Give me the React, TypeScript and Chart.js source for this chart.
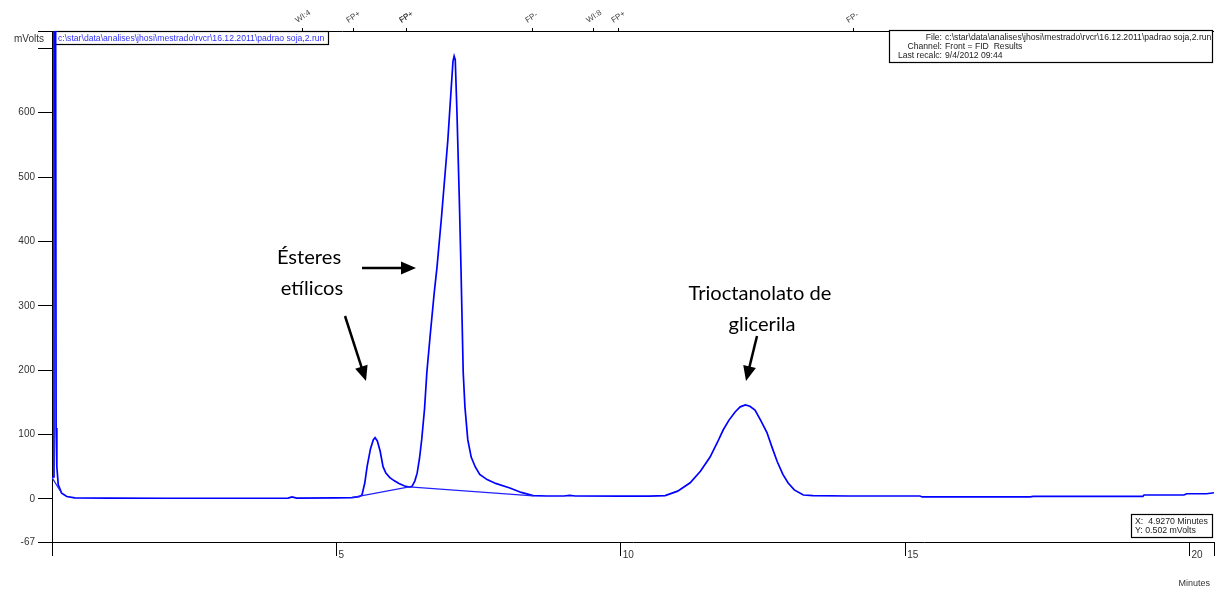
import React, { useEffect, useRef } from "react";
import { Chart, registerables } from "chart.js";
Chart.register(...registerables);

// ---- data (retention time in minutes, signal in mVolts) ----
const traceTime = [
  0, 0.02, 0.035, 0.06, 0.072, 0.085, 0.11, 0.17, 0.26, 0.4, 1.0, 2.0, 3.0, 4.0, 4.15, 4.22, 4.3, 5.0, 5.27,
  5.4, 5.45, 5.5, 5.54, 5.6, 5.65, 5.68, 5.72, 5.77, 5.82, 5.87, 5.94, 6.02, 6.1, 6.2, 6.28, 6.33, 6.38, 6.42,
  6.46, 6.5, 6.55, 6.59, 6.65, 6.72, 6.77, 6.85, 6.96, 7.02, 7.05, 7.07, 7.09, 7.12, 7.16, 7.19, 7.23, 7.26,
  7.31, 7.37, 7.44, 7.52, 7.65, 7.8, 8.05, 8.25, 8.46, 8.7, 9.0, 9.1, 9.2, 10.0, 10.5, 10.78, 11.0, 11.22,
  11.4, 11.57, 11.7, 11.8, 11.9, 12.01, 12.1, 12.19, 12.27, 12.36, 12.46, 12.57, 12.66, 12.75, 12.85, 12.94,
  13.05, 13.21, 13.38, 14.0, 15.26, 15.3, 17.2, 17.25, 19.18, 19.2, 19.9, 19.95, 20.3, 20.43,
];
const traceMv = [
  33, 34, 1000, 1000, 110, 50, 22, 9, 3.6, 1.5, 1.2, 1.0, 1.0, 1.0, 1.2, 3, 1.2, 1.5, 2,
  3.5, 6, 25, 50, 78, 92, 95, 90, 74, 50, 40, 33, 28, 24, 20, 18.5, 19.5, 28, 40,
  62, 92, 140, 196, 255, 320, 361, 440, 558, 640, 680, 688, 682, 600, 470, 361, 196, 143,
  92, 65, 50, 38, 30, 24, 17, 10, 5, 4.5, 4.5, 5.5, 4.5, 4.2, 4.3, 5, 12, 25,
  43, 65, 88, 107, 122, 135, 143, 146, 144, 138, 122, 103, 80, 58, 38, 25,
  14, 6, 5, 4.5, 4.5, 3, 3, 4, 4, 6, 6, 8, 8, 9.5,
];
// integration baselines
const baseATime = [0, 0.17];
const baseAMv = [33, 9];
const baseBTime = [5.27, 6.28, 8.46];
const baseBMv = [2, 18.5, 4.6];

// axes
const xTicks = [0, 5, 10, 15, 20, 20.43];
const yTicks = [-67, 0, 100, 200, 300, 400, 500, 600, 700, 727];

// event markers along the top
const markerTimes = [4.4, 5.29, 6.23, 6.23, 8.44, 9.51, 9.95, 14.08];
const markerLabels = ["WI:4", "FP+", "FP+", "FP-", "FP-", "WI:8", "FP+", "FP-"];

// info texts
const pathText = "c:\\star\\data\\analises\\jhosi\\mestrado\\rvcr\\16.12.2011\\padrao soja,2.run";
const infoLabels = ["File:", "Channel:", "Last recalc:"];
const infoValues = [pathText, "Front = FID  Results", "9/4/2012 09:44"];
const cursorLines = ["X:  4.9270 Minutes", "Y: 0.502 mVolts"];

const SANS = "'Liberation Sans', Arial, sans-serif";
const ANNOT = "Lato, 'Open Sans', sans-serif";

function fitSize(ctx: CanvasRenderingContext2D, text: string, width: number, family: string) {
  ctx.font = `100px ${family}`;
  const w = ctx.measureText(text).width;
  return (100 * width) / w;
}

function arrow(ctx: CanvasRenderingContext2D, x1: number, y1: number, x2: number, y2: number) {
  const head = 15;
  const half = 6.5;
  const a = Math.atan2(y2 - y1, x2 - x1);
  const c = Math.cos(a);
  const s = Math.sin(a);
  ctx.save();
  ctx.strokeStyle = "#000";
  ctx.fillStyle = "#000";
  ctx.lineWidth = 2.5;
  ctx.beginPath();
  ctx.moveTo(x1, y1);
  ctx.lineTo(x2 - head * 0.8 * c, y2 - head * 0.8 * s);
  ctx.stroke();
  ctx.beginPath();
  ctx.moveTo(x2, y2);
  ctx.lineTo(x2 - head * c + half * s, y2 - head * s - half * c);
  ctx.lineTo(x2 - head * c - half * s, y2 - head * s + half * c);
  ctx.closePath();
  ctx.fill();
  ctx.restore();
}

const overlay = {
  id: "overlay",
  beforeDatasetsDraw(chart: any) {
    const ctx: CanvasRenderingContext2D = chart.ctx;
    const area = chart.chartArea;
    const xs = chart.scales.x;
    ctx.save();
    // top axis line
    ctx.strokeStyle = "#000";
    ctx.lineWidth = 1;
    ctx.beginPath();
    ctx.moveTo(area.left, Math.round(area.top) + 0.5);
    ctx.lineTo(area.right, Math.round(area.top) + 0.5);
    ctx.stroke();
    // markers
    ctx.font = `8px ${SANS}`;
    ctx.fillStyle = "#444";
    markerTimes.forEach((t, i) => {
      const px = Math.round(xs.getPixelForValue(t)) + 0.5;
      ctx.beginPath();
      ctx.moveTo(px, area.top - 3);
      ctx.lineTo(px, area.top);
      ctx.stroke();
      ctx.save();
      ctx.translate(px - 5, area.top - 8);
      ctx.rotate(-0.6);
      ctx.textAlign = "left";
      ctx.textBaseline = "alphabetic";
      ctx.fillText(markerLabels[i], 0, 0);
      ctx.restore();
    });
    // top-left path box
    ctx.fillStyle = "#fff";
    ctx.fillRect(54.5, 31.5, 274, 13);
    ctx.strokeStyle = "#000";
    ctx.lineWidth = 1.2;
    ctx.strokeRect(54.5, 31.5, 274, 13);
    let fs = fitSize(ctx, pathText, 267, SANS);
    ctx.font = `${fs}px ${SANS}`;
    ctx.fillStyle = "#3030ff";
    ctx.textBaseline = "middle";
    ctx.textAlign = "left";
    ctx.fillText(pathText, 58, 38.5);
    // top-right info box
    ctx.fillStyle = "#fff";
    ctx.fillRect(889.5, 30.5, 323, 32);
    ctx.strokeStyle = "#000";
    ctx.strokeRect(889.5, 30.5, 323, 32);
    fs = fitSize(ctx, "File: " + pathText, 286, SANS);
    ctx.font = `${fs}px ${SANS}`;
    ctx.fillStyle = "#222";
    infoLabels.forEach((lab, i) => {
      const y = 38 + i * 9;
      ctx.textAlign = "right";
      ctx.fillText(lab, 942, y);
      ctx.textAlign = "left";
      ctx.fillText(infoValues[i], 945, y);
    });
    // cursor box
    ctx.fillStyle = "#fff";
    ctx.fillRect(1131.5, 514.5, 81, 23);
    ctx.strokeStyle = "#000";
    ctx.strokeRect(1131.5, 514.5, 81, 23);
    fs = fitSize(ctx, cursorLines[0], 73, SANS);
    ctx.font = `${fs}px ${SANS}`;
    ctx.fillStyle = "#222";
    ctx.textAlign = "left";
    ctx.fillText(cursorLines[0], 1135, 521.5);
    ctx.fillText(cursorLines[1], 1135, 530.5);
    ctx.restore();
  },
  afterDraw(chart: any) {
    const ctx: CanvasRenderingContext2D = chart.ctx;
    ctx.save();
    // axis titles
    ctx.fillStyle = "#333";
    ctx.font = `10px ${SANS}`;
    ctx.textAlign = "right";
    ctx.textBaseline = "middle";
    ctx.fillText("mVolts", 44, 39);
    ctx.font = `9px ${SANS}`;
    ctx.fillText("Minutes", 1210, 584);
    // annotations
    const fs = fitSize(ctx, "Trioctanolato de", 143, ANNOT);
    ctx.font = `${fs}px ${ANNOT}`;
    ctx.fillStyle = "#000";
    ctx.textAlign = "center";
    ctx.fillText("Ésteres", 309, 257);
    ctx.fillText("etílicos", 312, 288);
    ctx.fillText("Trioctanolato de", 760, 293);
    ctx.fillText("glicerila", 762, 324);
    arrow(ctx, 362, 268, 416, 268);
    arrow(ctx, 345, 316, 366, 381);
    arrow(ctx, 757, 336, 746, 381);
    ctx.restore();
  },
};

export default function App() {
  const ref = useRef<HTMLCanvasElement>(null);
  useEffect(() => {
    document.body.style.margin = "0";
    const canvas = ref.current!;
    const toPts = (xs: number[], ys: number[]) => xs.map((x, i) => ({ x, y: ys[i] }));
    const chart = new Chart(canvas, {
      type: "line",
      data: {
        datasets: [
          {
            data: toPts(baseATime, baseAMv),
            borderColor: "#2020ff",
            borderWidth: 1.2,
            pointRadius: 0,
          },
          {
            data: toPts(baseBTime, baseBMv),
            borderColor: "#2020ff",
            borderWidth: 1.2,
            pointRadius: 0,
          },
          {
            data: toPts(traceTime, traceMv),
            borderColor: "#0000ff",
            borderWidth: 1.7,
            pointRadius: 0,
            tension: 0,
          },
        ],
      },
      options: {
        responsive: false,
        animation: false,
        layout: { padding: { top: 31, right: 4, left: 0, bottom: 0 } },
        plugins: { legend: { display: false }, tooltip: { enabled: false } },
        scales: {
          x: {
            type: "linear",
            min: 0,
            max: 20.43,
            afterBuildTicks: (s: any) => {
              s.ticks = xTicks.map((v) => ({ value: v }));
            },
            afterFit: (s: any) => {
              s.height = 49;
            },
            ticks: {
              autoSkip: false,
              maxRotation: 0,
              align: "start",
              labelOffset: 2,
              padding: -7,
              color: "#333",
              font: { family: SANS, size: 10 },
              callback: (v: any) => (v === 0 || v > 20.1 ? "" : String(v)),
            },
            grid: { drawOnChartArea: false, tickLength: 14, color: "#000" },
            border: { color: "#000", width: 1 },
          },
          y: {
            type: "linear",
            min: -67,
            max: 727,
            afterBuildTicks: (s: any) => {
              s.ticks = yTicks.map((v) => ({ value: v }));
            },
            afterFit: (s: any) => {
              s.width = 52;
            },
            ticks: {
              autoSkip: false,
              padding: 3,
              color: "#333",
              font: { family: SANS, size: 10 },
              callback: (v: any) => (v >= 700 ? "" : String(v)),
            },
            grid: { drawOnChartArea: false, tickLength: 14, color: "#000" },
            border: { color: "#000", width: 1 },
          },
        },
      },
      plugins: [overlay],
    } as any);
    return () => chart.destroy();
  }, []);
  return (
    <canvas
      ref={ref}
      width={1218}
      height={591}
      style={{ position: "absolute", left: 0, top: 0, display: "block" }}
    />
  );
}
